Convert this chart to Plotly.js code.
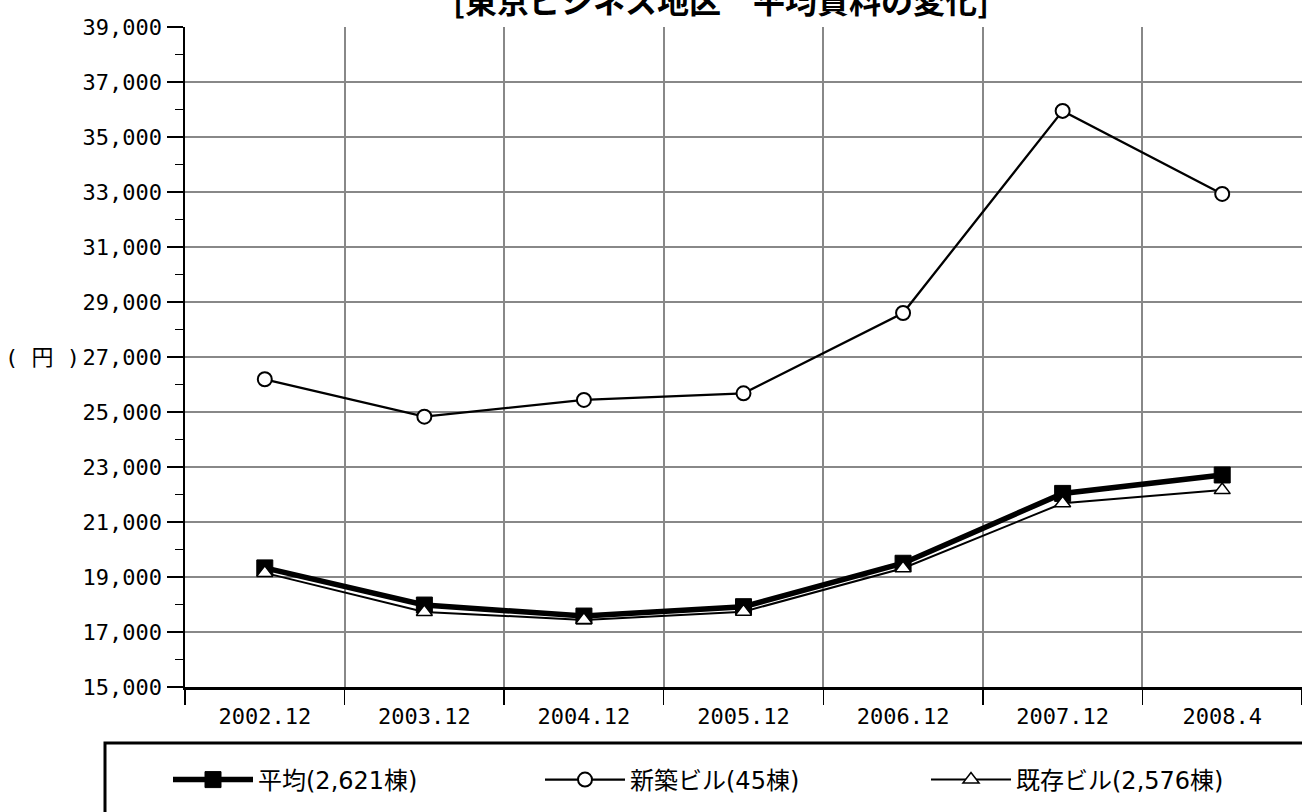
<!DOCTYPE html>
<html>
<head>
<meta charset="utf-8">
<script src="https://cdn.plot.ly/plotly-3.0.1.min.js"></script>
<style>
  html, body { margin: 0; padding: 0; background: #fff; }
  #chart { width: 1302px; height: 812px; }
</style>
</head>
<body>
<div id="chart"></div>
<script>
// ---- data ----
const categories = ['2002.12', '2003.12', '2004.12', '2005.12', '2006.12', '2007.12', '2008.4'];
const averageValues = [19330, 17980, 17580, 17920, 19500, 22040, 22710];
const newBuildingValues = [26190, 24830, 25440, 25680, 28600, 35950, 32930];
const existingBuildingValues = [19150, 17730, 17440, 17740, 19320, 21680, 22160];
const seriesNames = ['平均(2,621棟)', '新築ビル(45棟)', '既存ビル(2,576棟)'];
const titleText = '[東京ビジネス地区　平均賃料の変化]';
const yUnitLabel = '(&nbsp;円&nbsp;)';

const FONT = '"Noto Sans CJK JP", "Noto Sans", sans-serif';
const TICKFONT = '"DejaVu Sans Mono", "Noto Sans CJK JP", monospace';
const LEGFONT = '"DejaVu Sans", "Noto Sans CJK JP", sans-serif';

const traces = [
  {
    x: categories, y: averageValues, name: seriesNames[0], type: 'scatter', mode: 'lines+markers',
    line: {color: '#000', width: 5.5},
    marker: {symbol: 'square', size: 16, color: '#000', line: {color: '#000', width: 1}},
    legend: 'legend'
  },
  {
    x: categories, y: newBuildingValues, name: seriesNames[1], type: 'scatter', mode: 'lines+markers',
    line: {color: '#000', width: 2.3},
    marker: {symbol: 'circle', size: 14, color: '#fff', line: {color: '#000', width: 2}},
    legend: 'legend2'
  },
  {
    x: categories, y: existingBuildingValues, name: seriesNames[2], type: 'scatter', mode: 'lines+markers',
    line: {color: '#000', width: 2},
    marker: {symbol: 'triangle-up', size: 14, color: '#fff', line: {color: '#000', width: 1.5}},
    legend: 'legend3'
  }
];

// plot area: x 185..1302, y 27..687
const L = 185, T = 27, W = 1302, H = 812, R = 0, B = 125;
const pw = W - L - R, ph = H - T - B;
const px = v => (v - L) / pw;
const py = v => (T + ph - v) / ph;

const legendCommon = {
  orientation: 'h', bgcolor: 'rgba(0,0,0,0)', borderwidth: 0, itemwidth: 80,
  font: {family: LEGFONT, size: 24, color: '#000'},
  yanchor: 'middle', xanchor: 'left', y: py(780)
};

const layout = {
  width: W, height: H,
  margin: {l: L, r: R, t: T, b: B, pad: 0},
  paper_bgcolor: '#fff', plot_bgcolor: '#fff',
  font: {family: FONT, color: '#000'},
  showlegend: true,
  legend: Object.assign({}, legendCommon, {x: px(168)}),
  legend2: Object.assign({}, legendCommon, {x: px(540)}),
  legend3: Object.assign({}, legendCommon, {x: px(926)}),
  xaxis: {
    type: 'category', range: [-0.5, 6.5],
    tickson: 'boundaries', ticks: 'outside', ticklen: 15, tickwidth: 1.5, tickcolor: '#000',
    showgrid: true, gridcolor: '#888', gridwidth: 2,
    showline: true, linecolor: '#000', linewidth: 2.5,
    tickfont: {family: TICKFONT, size: 22, color: '#000'},
    ticklabelstandoff: 8,
    zeroline: false, fixedrange: true
  },
  yaxis: {
    range: [15000, 39000], dtick: 2000, tick0: 15000, tickformat: ',d',
    ticks: 'outside', ticklen: 16, tickwidth: 1.5, tickcolor: '#000',
    minor: {dtick: 1000, tick0: 15000, ticks: 'outside', ticklen: 8, tickwidth: 1.5, tickcolor: '#000', showgrid: false},
    showgrid: true, gridcolor: '#888', gridwidth: 2,
    showline: true, linecolor: '#000', linewidth: 2.5,
    tickfont: {family: TICKFONT, size: 22, color: '#000'},
    zeroline: false, fixedrange: true, ticklabelstandoff: 0
  },
  annotations: [
    {
      text: '<b>' + titleText + '</b>', xref: 'paper', yref: 'paper',
      x: px(721), y: py(-1), xanchor: 'center', yanchor: 'middle', showarrow: false,
      font: {family: FONT, size: 32, color: '#000'}
    },
    {
      text: yUnitLabel, xref: 'paper', yref: 'y',
      x: px(42), y: 27000, xanchor: 'center', yanchor: 'middle', showarrow: false,
      font: {family: TICKFONT, size: 22, color: '#000'}
    }
  ],
  shapes: [
    {
      type: 'rect', xref: 'paper', yref: 'paper',
      x0: px(105), x1: px(1310), y0: py(743), y1: py(830),
      line: {color: '#000', width: 3}, fillcolor: 'rgba(0,0,0,0)', layer: 'above'
    }
  ]
};

Plotly.newPlot('chart', traces, layout, {displayModeBar: false, staticPlot: true});
</script>
</body>
</html>
